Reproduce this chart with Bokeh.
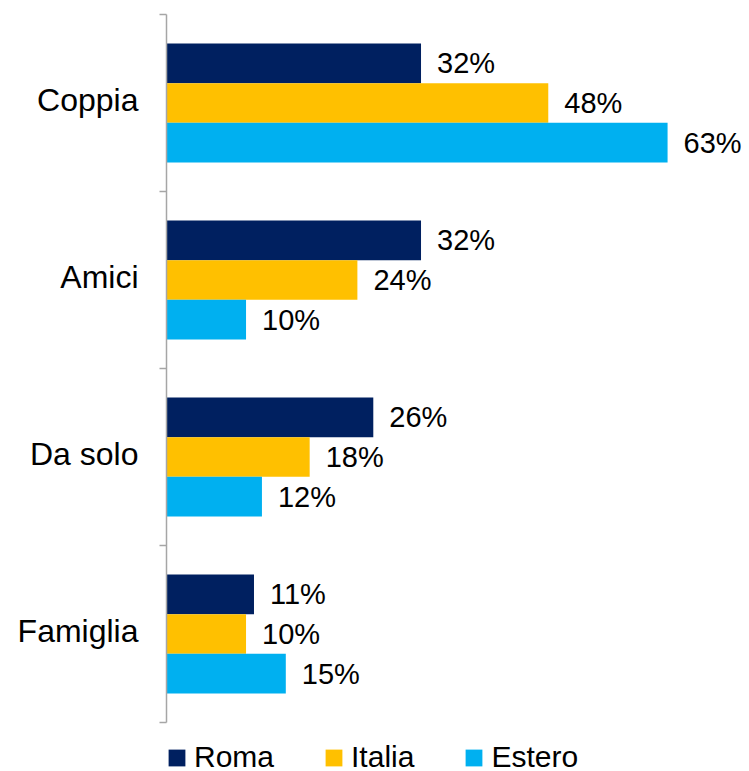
from bokeh.plotting import figure
from bokeh.models import ColumnDataSource, Range1d, LinearAxis, FixedTicker, Legend, LegendItem
from bokeh.transform import dodge
from bokeh.core.properties import value
from bokeh.embed import file_html
from bokeh.resources import INLINE

categories = ["Coppia", "Amici", "Da solo", "Famiglia"]
series = ["Roma", "Italia", "Estero"]
roma = [32, 32, 26, 11]
italia = [48, 24, 18, 10]
estero = [63, 10, 12, 15]
colors = ["#002060", "#FFC000", "#00B0F0"]

n = len(categories)
ypos = [n - i - 0.5 for i in range(n)]
boundaries = list(range(n + 1))

FONT = "Liberation Sans"

# frame runs to the bottom of the canvas; space under the categories holds the legend
y_pad = 49 / 177
p = figure(width=749, height=771, output_backend="svg", toolbar_location=None,
           x_range=Range1d(0, 73.3), y_range=Range1d(-y_pad, n),
           x_axis_location=None, y_axis_location=None,
           min_border_left=166, min_border_right=0, min_border_top=14, min_border_bottom=0)
p.outline_line_color = None
p.background_fill_color = "white"
p.border_fill_color = "white"
p.grid.grid_line_color = None

data = dict(y=ypos, Roma=roma, Italia=italia, Estero=estero)
for s, vals in zip(series, [roma, italia, estero]):
    data[s + "_lbl"] = [f"{v}%" for v in vals]
src = ColumnDataSource(data)

bar_h = 0.224
offsets = [bar_h, 0, -bar_h]
items = []
for s, off, c in zip(series, offsets, colors):
    r = p.hbar(y=dodge("y", off), left=0, right=s, height=bar_h, source=src,
               fill_color=c, line_color=None)
    p.text(x=s, y=dodge("y", off), text=s + "_lbl", source=src, x_offset=16,
           text_baseline="middle", text_align="left", text_font=value(FONT),
           text_font_size="29px", text_color="black")
    items.append(LegendItem(label=s, renderers=[r]))

tick_axis = LinearAxis(ticker=FixedTicker(ticks=boundaries), bounds=(0, n),
                       major_tick_out=7, major_tick_in=0,
                       minor_tick_out=0, minor_tick_in=0, major_label_text_font_size="0px",
                       major_label_text_alpha=0, major_label_standoff=0,
                       axis_line_color="#A6A6A6", major_tick_line_color="#A6A6A6",
                       axis_line_width=1.5, major_tick_line_width=1.5)
label_shift = 0.015
lab_ticks = [y + label_shift for y in ypos]
lab_axis = LinearAxis(ticker=FixedTicker(ticks=lab_ticks),
                      major_label_overrides={y: c for y, c in zip(lab_ticks, categories)},
                      axis_line_color=None, major_tick_line_color=None,
                      major_tick_out=0, major_tick_in=0, minor_tick_out=0, minor_tick_in=0,
                      major_label_standoff=21, major_label_text_font_size="32px",
                      major_label_text_font=FONT, major_label_text_color="black")
p.add_layout(tick_axis, "left")
p.add_layout(lab_axis, "left")

legend = Legend(items=items, orientation="horizontal", location=(0, -3),
                glyph_width=21, glyph_height=21, label_standoff=7, spacing=49,
                padding=0, margin=0, border_line_color=None, background_fill_alpha=0,
                label_text_font=FONT, label_text_font_size="30px", label_text_color="black")
p.add_layout(legend, "center")

open("out.html", "w").write(file_html(p, INLINE))
